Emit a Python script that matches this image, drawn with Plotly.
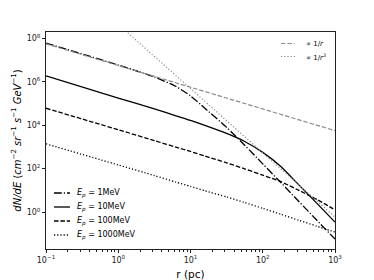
import plotly.graph_objects as go

# radius grid (pc)
r = [0.1, 1, 3.16, 6.3, 10, 15.8, 31.6, 56.2, 100, 178, 316, 562, 1000]

# dN/dE
e1 = [6.03e7, 5.89e6, 1.66e6, 6.03e5, 2.24e5, 6.03e4, 7.94e3, 1.20e3, 166, 22.9, 3.09, 0.417, 0.0575]
e10 = [1.86e6, 1.78e5, 5.62e4, 2.69e4, 1.66e4, 9.77e3, 4.17e3, 1.78e3, 562, 126, 17.8, 2.51, 0.347]
e100 = [6.03e4, 6.17e3, 1.95e3, 977, 617, 380, 186, 97.7, 50.1, 25.1, 10.0, 3.80, 1.26]
e1000 = [1380, 148, 47.9, 24.0, 15.1, 9.55, 5.01, 2.75, 1.48, 0.794, 0.417, 0.224, 0.120]

# reference power laws
r_inv = [0.1, 1000]
y_inv = [5.6e7, 5.6e3]
r_inv3 = [1, 1000]
y_inv3 = [4.4e8, 0.59]

names = ["<i>E<sub>p</sub></i> = 1MeV", "<i>E<sub>p</sub></i> = 10MeV",
         "<i>E<sub>p</sub></i> = 100MeV", "<i>E<sub>p</sub></i> = 1000MeV"]
ref_names = ["∝ 1/<i>r</i>", "∝ 1/<i>r</i><sup>3</sup>"]
series = [e1, e10, e100, e1000]

DASHDOT = "7.8px,2px,1.2px,2px"
DASH = "4.5px,1.9px"
DOT = "1.2px,2px"
dashes = [DASHDOT, "solid", DASH, DOT]
GREY = "#8c8c8c"

x_ticks = [0.1, 1, 10, 100, 1000]
x_ticktext = ["10<sup>−1</sup>", "10<sup>0</sup>", "10<sup>1</sup>", "10<sup>2</sup>", "10<sup>3</sup>"]
y_ticks = [1, 100, 1e4, 1e6, 1e8]
y_ticktext = ["10<sup>0</sup>", "10<sup>2</sup>", "10<sup>4</sup>", "10<sup>6</sup>", "10<sup>8</sup>"]
x_minor = [k * 10 ** e for e in range(-1, 3) for k in range(2, 10)]

W, H = 374, 280
ML, MR, MT, MB = 46, 39, 32, 31
PW, PH = W - ML - MR, H - MT - MB


def px_x(p):
    return (p - ML) / PW


def px_y(p):
    return (H - MB - p) / PH


fig = go.Figure()
for nm, ys, ds in zip(names, series, dashes):
    fig.add_trace(go.Scatter(x=r, y=ys, mode="lines", name=nm, showlegend=False,
                             line=dict(color="black", width=1.3, dash=ds, shape="spline", smoothing=0.6)))
fig.add_trace(go.Scatter(x=r_inv, y=y_inv, mode="lines", name=ref_names[0], showlegend=False,
                         line=dict(color=GREY, width=1.2, dash=DASH)))
fig.add_trace(go.Scatter(x=r_inv3, y=y_inv3, mode="lines", name=ref_names[1], showlegend=False,
                         line=dict(color=GREY, width=1.2, dash=DOT)))

# legend (lower left) and legend (upper right), drawn as samples + labels
shapes = []
annotations = []
for i, (nm, ds) in enumerate(zip(names, dashes)):
    yy = px_y(193 + 14 * i)
    shapes.append(dict(type="line", xref="paper", yref="paper", x0=px_x(54), x1=px_x(70), y0=yy, y1=yy,
                       line=dict(color="black", width=1.3, dash=ds)))
    annotations.append(dict(xref="paper", yref="paper", x=px_x(75), y=yy, xanchor="left", yanchor="middle",
                            text=nm, showarrow=False, font=dict(size=8, color="black")))
for i, (nm, ds) in enumerate(zip(ref_names, [DASH, DOT])):
    yy = px_y(43.5 + 13 * i)
    shapes.append(dict(type="line", xref="paper", yref="paper", x0=px_x(281), x1=px_x(295), y0=yy, y1=yy,
                       line=dict(color=GREY, width=1.1, dash=ds)))
    annotations.append(dict(xref="paper", yref="paper", x=px_x(304), y=yy, xanchor="left", yanchor="middle",
                            text=nm, showarrow=False, font=dict(size=7, color="black")))

axis_common = dict(showgrid=False, zeroline=False, showline=True, linecolor="#222", linewidth=1,
                   mirror=True, ticks="outside", ticklen=3, tickwidth=0.8, tickcolor="#222",
                   tickfont=dict(family="DejaVu Sans", size=8, color="#222"))

fig.update_layout(
    width=W, height=H,
    margin=dict(l=ML, r=MR, t=MT, b=MB, autoexpand=False),
    paper_bgcolor="white", plot_bgcolor="white",
    font=dict(family="DejaVu Sans", color="black"),
    xaxis=dict(type="log", range=[-1, 3], tickmode="array", tickvals=x_ticks, ticktext=x_ticktext,
               minor=dict(tickvals=x_minor, ticks="outside", ticklen=1.6, tickwidth=0.6, tickcolor="#222"),
               title=dict(text="r (pc)", font=dict(size=10.5), standoff=8),
               ticklabelstandoff=0,
               **axis_common),
    yaxis=dict(type="log", range=[-1.70, 8.29], tickmode="array", tickvals=y_ticks, ticktext=y_ticktext,
               title=dict(text="<i>dN/dE</i> (<i>cm</i><sup>−2</sup> <i>sr</i><sup>−1</sup> <i>s</i><sup>−1</sup> <i>GeV</i><sup>−1</sup>)",
                          font=dict(size=10), standoff=3),
               **axis_common),
    shapes=shapes,
    annotations=annotations,
    showlegend=False,
)

fig.write_html("out.html", config={"displayModeBar": False},
               post_script="document.body.style.margin='0';document.body.style.padding='0';")
